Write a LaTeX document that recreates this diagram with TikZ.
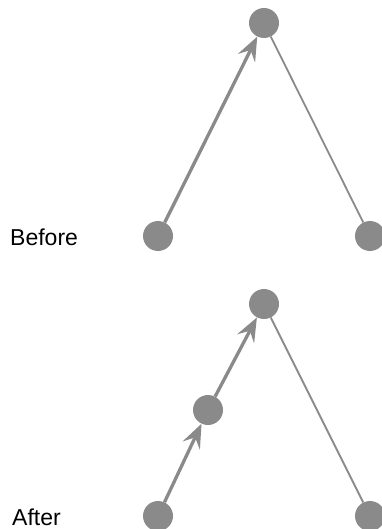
\documentclass[tikz,border=0pt]{standalone}
\usepackage{fontspec}
\setmainfont{Liberation Sans}
\usetikzlibrary{arrows.meta}
\definecolor{nodegray}{HTML}{8A8A8A}
\begin{document}
\begin{tikzpicture}[x=1pt,y=-1pt,
  dot/.style={circle,fill=nodegray,draw=none,minimum size=30pt,inner sep=0pt},
  heavy/.style={draw=nodegray,line width=3.3pt,-{Stealth[length=24pt,width=19pt,inset=9pt]}},
  light/.style={draw=nodegray,line width=1.8pt},
  lbl/.style={anchor=base west,inner sep=0pt,font=\fontsize{23}{27}\selectfont}]
\useasboundingbox (0,0) rectangle (381,529);
% Before
\node[dot] (bt) at (264,23) {};
\node[dot] (bl) at (158,236) {};
\node[dot] (br) at (370,236) {};
\draw[heavy] (bl) -- (bt);
\draw[light] (bt) -- (br);
\node[lbl] (before) at (10,245) {Before};
% After
\node[dot] (at) at (264,304) {};
\node[dot] (am) at (208,410) {};
\node[dot] (al) at (158,516) {};
\node[dot] (ar) at (370,516) {};
\draw[heavy] (al) -- (am);
\draw[heavy] (am) -- (at);
\draw[light] (at) -- (ar);
\node[lbl] (after) at (12,525) {After};
\end{tikzpicture}
\end{document}
